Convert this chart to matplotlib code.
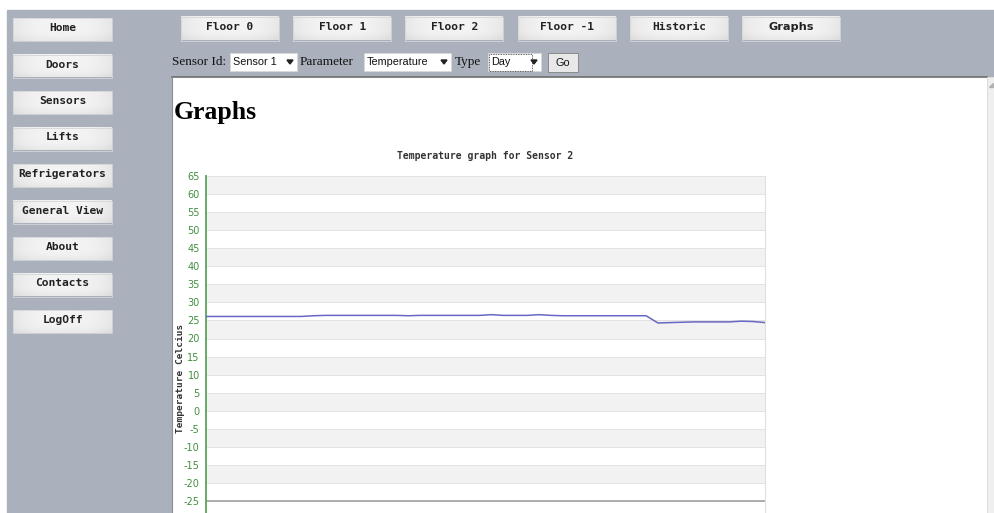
import matplotlib
matplotlib.use("Agg")
import numpy as np
import matplotlib.pyplot as plt
from matplotlib.patches import Rectangle, Polygon

plt.rcParams['axes.unicode_minus'] = False

side_buttons = ['Home', 'Doors', 'Sensors', 'Lifts', 'Refrigerators',
                'General View', 'About', 'Contacts', 'LogOff']
top_buttons = ['Floor 0', 'Floor 1', 'Floor 2', 'Floor -1', 'Historic', 'Graphs']

chart_title = 'Temperature graph for Sensor 2'
y_label = 'Temperature Celcius'
y_ticks = list(range(-25, 70, 5))

# one reading every half hour over the day
temps = [26.1, 26.1, 26.1, 26.1, 26.1, 26.1, 26.1, 26.1, 26.1, 26.3,
         26.4, 26.4, 26.4, 26.4, 26.4, 26.4, 26.4, 26.3, 26.4, 26.4,
         26.4, 26.4, 26.4, 26.4, 26.6, 26.4, 26.4, 26.4, 26.6, 26.4,
         26.3, 26.3, 26.3, 26.3, 26.3, 26.3, 26.3, 26.3, 24.3, 24.4,
         24.5, 24.6, 24.6, 24.6, 24.6, 24.8, 24.7, 24.4]

W, H = 995, 513
fig = plt.figure(figsize=(W / 100, H / 100), dpi=100)
fig.patch.set_facecolor('white')

bg = fig.add_axes([0, 0, 1, 1])
bg.set_xlim(0, W)
bg.set_ylim(H, 0)
bg.axis('off')

grey = '#aab1bc'
bg.add_patch(Rectangle((7, 10), W - 7, H - 10, color=grey, zorder=0))

mono = 'DejaVu Sans Mono'

# soft button shading: bright middle, darker at edges
gx = np.linspace(-1, 1, 60)
gy = np.linspace(-1, 1, 20)
shade = 0.955 - 0.05 * np.abs(gx)[None, :] ** 3 - 0.04 * np.clip(gy, 0, 1)[:, None] ** 2
shade_rgb = np.dstack([shade, shade, shade])


def button(x, y, w, h, label, family=mono):
    bg.imshow(shade_rgb, extent=(x, x + w, y + h, y), aspect='auto', zorder=1, interpolation='bilinear')
    bg.add_patch(Rectangle((x, y), w, h, fill=False, edgecolor='#d3d5d9', lw=0.6, zorder=1.5))
    bg.text(x + w / 2, y + h / 2 - 1.5, label, ha='center', va='center', fontsize=8.1,
            fontweight='bold', family=family, color='#222222', zorder=2)


side_y = [18, 54.5, 91, 127.5, 164, 200.5, 237, 273.5, 310]
for lab, y in zip(side_buttons, side_y):
    button(13, y, 99, 23, lab)

for i, lab in enumerate(top_buttons):
    fam = 'DejaVu Sans' if lab == 'Graphs' else mono
    button(181 + i * 112.2, 17, 98, 23.5, lab, family=fam)

# form row
serif = 'Liberation Serif'
sans = 'Liberation Sans'
fy = 62
bg.text(172, fy, 'Sensor Id:', ha='left', va='center', fontsize=9.5, family=serif, color='#111111')
bg.text(300, fy, 'Parameter', ha='left', va='center', fontsize=9.5, family=serif, color='#111111')
bg.text(455, fy, 'Type', ha='left', va='center', fontsize=9.5, family=serif, color='#111111')


def select(x0, x1, label):
    bg.add_patch(Rectangle((x0, 53), x1 - x0, 18, facecolor='white', edgecolor='#d8d8d8', lw=0.6, zorder=1))
    bg.text(x0 + 3, fy, label, ha='left', va='center', fontsize=7.8, family=sans, color='#111111', zorder=2)
    bg.add_patch(Polygon([[x1 - 10, 60], [x1 - 4, 60], [x1 - 7, 64]], closed=True, color='#222222', zorder=2))


select(230, 297, 'Sensor 1')
select(364, 451, 'Temperature')
select(488, 541, 'Day')
bg.add_patch(Rectangle((488.5, 53.5), 43, 17, fill=False, edgecolor='#333333', lw=0.6, ls=(0, (1, 1)), zorder=2))
bg.add_patch(Rectangle((548, 53), 30, 19, facecolor='#e8e8e8', edgecolor='#8a8a8a', lw=0.7, zorder=1))
bg.text(563, fy + 0.5, 'Go', ha='center', va='center', fontsize=7.8, family=sans, color='#111111', zorder=2)

# content panel
bg.add_patch(Rectangle((172, 77), 815, H - 77, facecolor='white', edgecolor='none', zorder=1))
bg.plot([172, 987], [77, 77], color='#6d6d6d', lw=1.2, zorder=2)
bg.plot([172, 172], [77, H], color='#8a8f97', lw=0.8, zorder=2)
bg.add_patch(Rectangle((987, 77), 8, H - 77, facecolor='#efefef', edgecolor='#e2e2e2', lw=0.5, zorder=2))
bg.add_patch(Polygon([[989, 87], [993, 87], [993, 83]], closed=True, color='#b0b0b0', zorder=3))

bg.text(174, 112, 'Graphs', ha='left', va='center', fontsize=18.5, fontweight='bold',
        family=serif, color='#000000', zorder=2)

# chart
px_left, px_right, px_top = 206, 765, 176
y_top, y_min_tick = 65, -25
px_per_unit = (501 - 176) / (y_top - y_min_tick)
y_bottom = y_top - (H - px_top) / px_per_unit

ax = fig.add_axes([px_left / W, 0, (px_right - px_left) / W, 1 - px_top / H])
ax.set_facecolor('white')
x = list(range(len(temps)))
ax.set_xlim(0, len(temps) - 1)
ax.set_ylim(y_bottom, y_top)

for lo in range(-20, 65, 10):
    ax.axhspan(lo, lo + 5, color='#f2f2f2', lw=0, zorder=0)
for t in y_ticks:
    ax.axhline(t, color='#e3e3e3', lw=0.7, zorder=1)
ax.axhline(y_min_tick, color='#a8a8a8', lw=1.3, zorder=2)

ax.plot(x, temps, color='#6767c6', lw=1.1, zorder=3)

ax.set_yticks(y_ticks)
ax.set_yticklabels([str(t) for t in y_ticks])
ax.tick_params(axis='y', length=0, pad=4.5, labelsize=7, labelcolor='#3f8f3f')
ax.set_xticks([])
for s in ['top', 'bottom']:
    ax.spines[s].set_visible(False)
ax.spines['left'].set_color('#5aa55a')
ax.spines['left'].set_linewidth(1.3)
ax.spines['right'].set_color('#e0e0e0')
ax.spines['right'].set_linewidth(0.8)

ax.set_title(chart_title, fontsize=7, family=mono, fontweight='bold', color='#333333', pad=12.5)
fig.text(181 / W, 1 - 378 / H, y_label, rotation=90, ha='center', va='center',
         fontsize=6.8, family=mono, fontweight='bold', color='#333333')

fig.savefig('out.png', dpi=100)
